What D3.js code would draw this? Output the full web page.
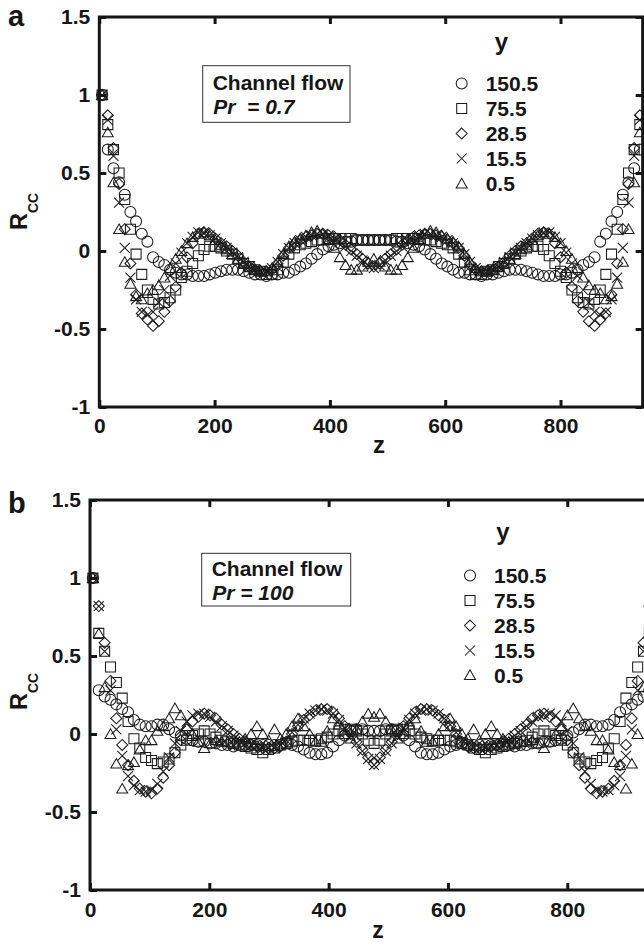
<!DOCTYPE html>
<html>
<head>
<meta charset="utf-8">
<script src="https://cdn.jsdelivr.net/npm/d3@7"></script>
<style>
  html, body { margin: 0; padding: 0; background: #fff; }
  svg { display: block; }
  text { font-family: "Liberation Sans", Arial, Helvetica, sans-serif; font-weight: bold; fill: #161616; }
</style>
</head>
<body>
<svg id="fig" width="644" height="943"></svg>
<script>
// Spanwise grid (wall units): 96 uniform stations across the 942.5-wide periodic box
const spanStep = 942.5 / 96;
const spanOffset = 4.9;
const zStations = d3.range(96).map(i => spanOffset + i * spanStep);

const xTicks = [0, 200, 400, 600, 800];
const yTicks = [-1, -0.5, 0, 0.5, 1, 1.5];
const yLevels = ["150.5", "75.5", "28.5", "15.5", "0.5"];

// (a) Pr = 0.7 : two-point correlation R_cc(z) at five wall distances
const prA_y150 = [1.00, 0.65, 0.53, 0.44, 0.36, 0.25, 0.19, 0.11, 0.06, -0.04, -0.07, -0.09, -0.12, -0.14, -0.15, -0.15, -0.16, -0.16, -0.16, -0.15, -0.14, -0.13, -0.12, -0.12, -0.12, -0.13, -0.14, -0.15, -0.15, -0.16, -0.15, -0.15, -0.14, -0.14, -0.12, -0.10, -0.08, -0.05, -0.02, 0.01, 0.03, 0.04, 0.05, 0.06, 0.06, 0.07, 0.07, 0.07, 0.07,
  0.07, 0.07, 0.07, 0.06, 0.06, 0.05, 0.04, 0.03, 0.01, -0.02, -0.05, -0.08, -0.10, -0.12, -0.14, -0.14, -0.15, -0.15, -0.16, -0.15, -0.15, -0.14, -0.13, -0.12, -0.12, -0.12, -0.13, -0.14, -0.15, -0.16, -0.16, -0.16, -0.15, -0.15, -0.14, -0.12, -0.09, -0.07, -0.04, 0.06, 0.11, 0.19, 0.25, 0.36, 0.44, 0.53, 0.65];
const prA_y75 = [1.00, 0.81, 0.65, 0.50, 0.33, 0.14, -0.02, -0.15, -0.25, -0.31, -0.34, -0.33, -0.30, -0.25, -0.17, -0.13, -0.08, -0.03, 0.01, 0.03, 0.03, 0.02, 0.00, -0.02, -0.05, -0.08, -0.10, -0.12, -0.13, -0.15, -0.15, -0.12, -0.07, -0.02, 0.02, 0.04, 0.05, 0.06, 0.07, 0.07, 0.08, 0.08, 0.08, 0.08, 0.08, 0.07, 0.07, 0.07, 0.07,
  0.07, 0.07, 0.07, 0.08, 0.08, 0.08, 0.08, 0.08, 0.07, 0.07, 0.06, 0.05, 0.04, 0.02, -0.02, -0.07, -0.12, -0.15, -0.15, -0.13, -0.12, -0.10, -0.08, -0.05, -0.02, 0.00, 0.02, 0.03, 0.03, 0.01, -0.03, -0.08, -0.13, -0.17, -0.25, -0.30, -0.33, -0.34, -0.31, -0.25, -0.15, -0.02, 0.14, 0.33, 0.50, 0.65, 0.81];
const prA_y28 = [1.00, 0.87, 0.66, 0.43, 0.14, -0.08, -0.28, -0.40, -0.44, -0.48, -0.45, -0.39, -0.32, -0.23, -0.14, -0.04, 0.05, 0.11, 0.12, 0.11, 0.08, 0.05, 0.03, 0.00, -0.03, -0.07, -0.10, -0.12, -0.13, -0.13, -0.12, -0.08, -0.03, 0.02, 0.05, 0.07, 0.09, 0.10, 0.11, 0.11, 0.10, 0.09, 0.07, 0.04, 0.01, -0.02, -0.05, -0.08, -0.10,
  -0.08, -0.05, -0.02, 0.01, 0.04, 0.07, 0.09, 0.10, 0.11, 0.11, 0.10, 0.09, 0.07, 0.05, 0.02, -0.03, -0.08, -0.12, -0.13, -0.13, -0.12, -0.10, -0.07, -0.03, 0.00, 0.03, 0.05, 0.08, 0.11, 0.12, 0.11, 0.05, -0.04, -0.14, -0.23, -0.32, -0.39, -0.45, -0.48, -0.44, -0.40, -0.28, -0.08, 0.14, 0.43, 0.66, 0.87];
const prA_y15 = [1.00, 0.84, 0.61, 0.31, 0.02, -0.17, -0.31, -0.39, -0.41, -0.39, -0.33, -0.25, -0.16, -0.08, -0.01, 0.05, 0.09, 0.12, 0.12, 0.10, 0.08, 0.05, 0.02, -0.01, -0.04, -0.07, -0.10, -0.12, -0.13, -0.13, -0.11, -0.07, -0.02, 0.02, 0.05, 0.07, 0.09, 0.10, 0.11, 0.11, 0.10, 0.08, 0.06, 0.03, 0.00, -0.03, -0.06, -0.09, -0.11,
  -0.09, -0.06, -0.03, 0.00, 0.03, 0.06, 0.08, 0.10, 0.11, 0.11, 0.10, 0.09, 0.07, 0.05, 0.02, -0.02, -0.07, -0.11, -0.13, -0.13, -0.12, -0.10, -0.07, -0.04, -0.01, 0.02, 0.05, 0.08, 0.10, 0.12, 0.12, 0.09, 0.05, -0.01, -0.08, -0.16, -0.25, -0.33, -0.39, -0.41, -0.39, -0.31, -0.17, 0.02, 0.31, 0.61, 0.84];
const prA_y05 = [1.00, 0.76, 0.44, 0.14, -0.07, -0.21, -0.29, -0.31, -0.27, -0.25, -0.22, -0.17, -0.11, -0.05, 0.00, 0.05, 0.09, 0.11, 0.12, 0.10, 0.07, 0.04, 0.01, -0.02, -0.05, -0.08, -0.10, -0.12, -0.13, -0.13, -0.11, -0.07, -0.02, 0.03, 0.06, 0.08, 0.10, 0.12, 0.13, 0.11, 0.07, 0.02, -0.04, -0.09, -0.12, -0.12, -0.10, -0.07, -0.05,
  -0.07, -0.10, -0.12, -0.12, -0.09, -0.04, 0.02, 0.07, 0.11, 0.13, 0.12, 0.10, 0.08, 0.06, 0.03, -0.02, -0.07, -0.11, -0.13, -0.13, -0.12, -0.10, -0.08, -0.05, -0.02, 0.01, 0.04, 0.07, 0.10, 0.12, 0.11, 0.09, 0.05, 0.00, -0.05, -0.11, -0.17, -0.22, -0.25, -0.27, -0.31, -0.29, -0.21, -0.07, 0.14, 0.44, 0.76];

// (b) Pr = 100
const prB_y150 = [1.00, 0.28, 0.24, 0.22, 0.19, 0.16, 0.14, 0.09, 0.06, 0.05, 0.05, 0.06, 0.06, 0.03, 0.01, -0.01, -0.03, -0.04, -0.05, -0.05, -0.06, -0.06, -0.07, -0.07, -0.08, -0.07, -0.07, -0.07, -0.07, -0.07, -0.07, -0.07, -0.07, -0.06, -0.07, -0.08, -0.10, -0.12, -0.13, -0.13, -0.12, -0.08, -0.04, -0.01, 0.02, 0.03, 0.03, 0.02, 0.02,
  0.02, 0.03, 0.03, 0.02, -0.01, -0.04, -0.08, -0.12, -0.13, -0.13, -0.12, -0.10, -0.08, -0.07, -0.06, -0.07, -0.07, -0.07, -0.07, -0.07, -0.07, -0.07, -0.07, -0.08, -0.07, -0.07, -0.06, -0.06, -0.05, -0.05, -0.04, -0.03, -0.01, 0.01, 0.03, 0.06, 0.06, 0.05, 0.05, 0.06, 0.09, 0.14, 0.16, 0.19, 0.22, 0.24, 0.28];
const prB_y75 = [1.00, 0.645, 0.53, 0.43, 0.33, 0.23, 0.08, -0.03, -0.09, -0.15, -0.17, -0.19, -0.18, -0.16, -0.12, -0.07, -0.04, -0.01, 0.00, 0.02, 0.00, -0.02, -0.04, -0.05, -0.06, -0.07, -0.08, -0.09, -0.10, -0.12, -0.10, -0.09, -0.07, -0.06, -0.05, -0.04, -0.04, -0.04, -0.04, -0.03, -0.02, 0.00, 0.02, 0.03, 0.03, 0.02, 0.00, -0.04, -0.06,
  -0.04, 0.00, 0.02, 0.03, 0.03, 0.02, 0.00, -0.02, -0.03, -0.04, -0.04, -0.04, -0.04, -0.05, -0.06, -0.07, -0.09, -0.10, -0.12, -0.10, -0.09, -0.08, -0.07, -0.06, -0.05, -0.04, -0.02, 0.00, 0.02, 0.00, -0.01, -0.04, -0.07, -0.12, -0.16, -0.18, -0.19, -0.17, -0.15, -0.09, -0.03, 0.08, 0.23, 0.33, 0.43, 0.53, 0.645];
const prB_y28 = [1.00, 0.82, 0.585, 0.34, 0.10, -0.07, -0.20, -0.30, -0.35, -0.37, -0.38, -0.35, -0.28, -0.20, -0.12, -0.04, 0.03, 0.08, 0.11, 0.13, 0.12, 0.10, 0.06, 0.03, 0.00, -0.03, -0.05, -0.07, -0.08, -0.09, -0.09, -0.09, -0.08, -0.05, 0.00, 0.05, 0.09, 0.12, 0.15, 0.16, 0.16, 0.14, 0.10, 0.05, 0.00, -0.05, -0.10, -0.15, -0.19,
  -0.15, -0.10, -0.05, 0.00, 0.05, 0.10, 0.14, 0.16, 0.16, 0.15, 0.12, 0.09, 0.05, 0.00, -0.05, -0.08, -0.09, -0.09, -0.09, -0.08, -0.07, -0.05, -0.03, 0.00, 0.03, 0.06, 0.10, 0.12, 0.13, 0.11, 0.08, 0.03, -0.04, -0.12, -0.20, -0.28, -0.35, -0.38, -0.37, -0.35, -0.30, -0.20, -0.07, 0.10, 0.34, 0.585, 0.82];
const prB_y15 = [1.00, 0.82, 0.53, 0.28, 0.03, -0.14, -0.27, -0.33, -0.36, -0.37, -0.36, -0.32, -0.24, -0.15, -0.06, 0.02, 0.08, 0.12, 0.13, 0.13, 0.11, 0.08, 0.05, 0.02, -0.01, -0.04, -0.06, -0.07, -0.08, -0.09, -0.09, -0.09, -0.07, -0.04, 0.01, 0.06, 0.10, 0.13, 0.15, 0.16, 0.15, 0.13, 0.09, 0.04, -0.01, -0.06, -0.11, -0.16, -0.20,
  -0.16, -0.11, -0.06, -0.01, 0.04, 0.09, 0.13, 0.15, 0.16, 0.15, 0.13, 0.10, 0.06, 0.01, -0.04, -0.07, -0.09, -0.09, -0.09, -0.08, -0.07, -0.06, -0.04, -0.01, 0.02, 0.05, 0.08, 0.11, 0.13, 0.13, 0.12, 0.08, 0.02, -0.06, -0.15, -0.24, -0.32, -0.36, -0.37, -0.36, -0.33, -0.27, -0.14, 0.03, 0.28, 0.53, 0.82];
const prB_y05 = [1.00, 0.645, 0.30, 0.00, -0.19, -0.35, -0.20, -0.18, -0.10, -0.04, -0.04, 0.02, 0.05, 0.10, 0.165, 0.12, 0.05, 0.00, -0.05, -0.09, -0.06, -0.04, -0.05, -0.05, -0.06, -0.05, -0.03, 0.00, 0.05, 0.00, -0.04, 0.03, -0.03, 0.00, 0.05, 0.10, 0.05, 0.00, -0.05, -0.05, 0.02, 0.10, 0.06, 0.00, -0.03, 0.03, 0.08, 0.13, 0.11,
  0.13, 0.08, 0.03, -0.03, 0.00, 0.06, 0.10, 0.02, -0.05, -0.05, 0.00, 0.05, 0.10, 0.05, 0.00, -0.03, 0.03, -0.04, 0.00, 0.05, 0.00, -0.03, -0.05, -0.06, -0.05, -0.05, -0.04, -0.06, -0.09, -0.05, 0.00, 0.05, 0.12, 0.165, 0.10, 0.05, 0.02, -0.04, -0.04, -0.10, -0.18, -0.20, -0.35, -0.19, 0.00, 0.30, 0.645];

// Open marker shapes (circle, square, diamond, cross, triangle)
const diamondShape = { draw(ctx, size) { const r = Math.sqrt(size / 2); ctx.moveTo(0, -r); ctx.lineTo(r, 0); ctx.lineTo(0, r); ctx.lineTo(-r, 0); ctx.closePath(); } };
const crossShape = { draw(ctx, size) { const r = Math.sqrt(size) / 2; ctx.moveTo(-r, -r); ctx.lineTo(r, r); ctx.moveTo(r, -r); ctx.lineTo(-r, r); } };
const triangleShape = { draw(ctx, size) { const s = Math.sqrt(size); ctx.moveTo(0, -0.47 * s); ctx.lineTo(0.5 * s, 0.4 * s); ctx.lineTo(-0.5 * s, 0.4 * s); ctx.closePath(); } };
const markers = [
  d3.symbol(d3.symbolCircle, 95)(),
  d3.symbol(d3.symbolSquare, 100)(),
  d3.symbol(diamondShape, 60)(),
  d3.symbol(crossShape, 100)(),
  d3.symbol(triangleShape, 121)()
];

const panels = [
  { tag: "a", series: [prA_y150, prA_y75, prA_y28, prA_y15, prA_y05], pr: "Pr  = 0.7",
    left: 99.3, top: 17, bottom: 407, unit: 0.5765, tagBase: 26,
    box: [202.7, 65.7, 350, 122.3], boxLines: [90, 114.3],
    legX: 461.7, legTextX: 485.7, legTitle: [501.5, 50], legRows: [83.5, 108.5, 133.5, 158.5, 183.5],
    zLabel: [379, 453], zSize: 24, rLabel: 230, xLabelPad: 11 },
  { tag: "b", series: [prB_y150, prB_y75, prB_y28, prB_y15, prB_y05], pr: "Pr = 100",
    left: 90, top: 500, bottom: 890, unit: 0.5966, tagBase: 513,
    box: [201.7, 553.3, 350.7, 606], boxLines: [576, 600],
    legX: 470, legTextX: 494, legTitle: [503, 540], legRows: [575.5, 600.5, 625.5, 650.5, 675],
    zLabel: [378, 938], zSize: 23, rLabel: 710, xLabelPad: 12 }
];

const svg = d3.select("#fig");
const ink = "#161616";

panels.forEach(p => {
  const x = d3.scaleLinear().domain([0, 942.5]).range([p.left, p.left + 942.5 * p.unit]);
  const y = d3.scaleLinear().domain([-1, 1.5]).range([p.bottom, p.top]);
  const g = svg.append("g");

  // data markers
  p.series.forEach((vals, si) => {
    g.append("g").selectAll("path").data(vals).join("path")
      .attr("d", markers[si])
      .attr("transform", (v, i) => `translate(${x(zStations[i])},${y(v)})`)
      .attr("fill", "none").attr("stroke", "#1c1c1c").attr("stroke-width", 1.05);
  });

  // axes with inward ticks
  const fmt = d => String(d);
  const styleAxis = sel => {
    sel.select(".domain").remove();
    sel.selectAll(".tick line").attr("stroke", ink).attr("stroke-width", 3);
    sel.selectAll(".tick text").attr("fill", ink).style("font-size", "21px").style("font-weight", "bold")
      .style("font-family", '"Liberation Sans", Arial, sans-serif');
  };
  g.append("g").attr("transform", `translate(0,${p.bottom})`)
    .call(d3.axisBottom(x).tickValues(xTicks).tickFormat(fmt).tickSizeInner(-7).tickSizeOuter(0).tickPadding(p.xLabelPad))
    .call(styleAxis);
  g.append("g").attr("transform", `translate(0,${p.top})`)
    .call(d3.axisTop(x).tickValues(xTicks).tickFormat("").tickSizeInner(-7).tickSizeOuter(0))
    .call(styleAxis);
  g.append("g").attr("transform", `translate(${p.left},0)`)
    .call(d3.axisLeft(y).tickValues(yTicks).tickFormat(fmt).tickSizeInner(-7).tickSizeOuter(0).tickPadding(9))
    .call(styleAxis);
  g.append("g").attr("transform", `translate(${x(942.5)},0)`)
    .call(d3.axisRight(y).tickValues(yTicks).tickFormat("").tickSizeInner(-7).tickSizeOuter(0))
    .call(styleAxis);

  // frame
  g.append("rect")
    .attr("x", p.left).attr("y", p.top)
    .attr("width", x(942.5) - p.left).attr("height", p.bottom - p.top)
    .attr("fill", "none").attr("stroke", ink).attr("stroke-width", 3);

  // panel tag
  svg.append("text").attr("x", 8).attr("y", p.tagBase).style("font-size", "29px").text(p.tag);

  // axis titles
  svg.append("text").attr("x", p.zLabel[0]).attr("y", p.zLabel[1]).attr("text-anchor", "middle")
    .style("font-size", p.zSize + "px").text("z");
  const rt = svg.append("text").attr("transform", `translate(27,${p.rLabel}) rotate(-90)`);
  rt.append("tspan").style("font-size", "23.5px").text("R");
  rt.append("tspan").attr("dy", 11).style("font-size", "14px").text("CC");

  // annotation box
  const [bx0, by0, bx1, by1] = p.box;
  svg.append("rect").attr("x", bx0).attr("y", by0).attr("width", bx1 - bx0).attr("height", by1 - by0)
    .attr("fill", "#fff").attr("stroke", "#333").attr("stroke-width", 1);
  svg.append("text").attr("x", bx0 + 10).attr("y", p.boxLines[0]).style("font-size", "21px").text("Channel flow");
  svg.append("text").attr("x", bx0 + 10.5).attr("y", p.boxLines[1]).style("font-size", "21px")
    .style("font-style", "italic").attr("xml:space", "preserve").text(p.pr);

  // legend
  svg.append("text").attr("x", p.legTitle[0]).attr("y", p.legTitle[1]).attr("text-anchor", "middle")
    .style("font-size", "24px").text("y");
  yLevels.forEach((lab, i) => {
    svg.append("path").attr("d", markers[i])
      .attr("transform", `translate(${p.legX},${p.legRows[i]})`)
      .attr("fill", "none").attr("stroke", "#1c1c1c").attr("stroke-width", 1.05);
    svg.append("text").attr("x", p.legTextX).attr("y", p.legRows[i] + 7.8)
      .style("font-size", "21px").text(lab);
  });
});
</script>
</body>
</html>
